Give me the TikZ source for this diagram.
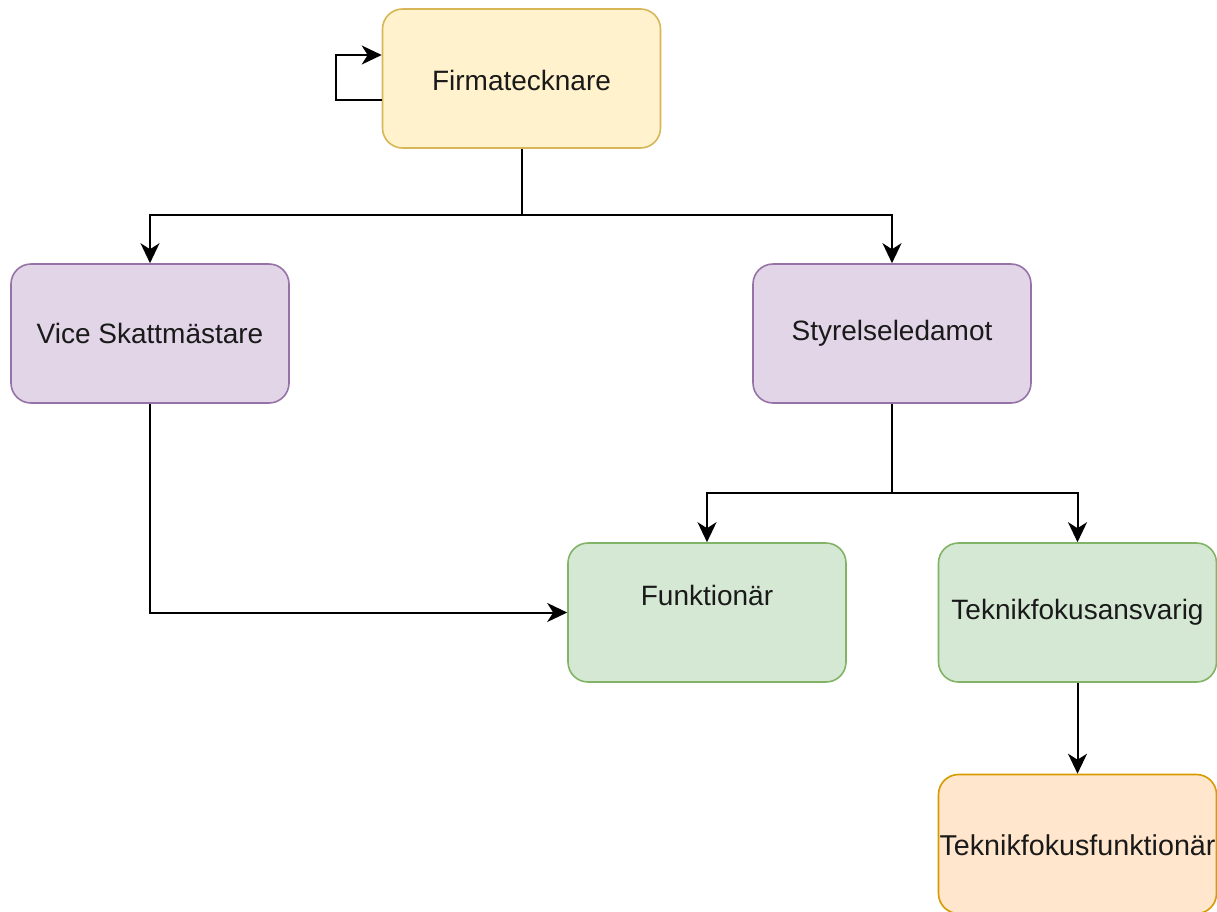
\documentclass[tikz,border=0pt]{standalone}
\usepackage{fontspec}
\setmainfont{Liberation Sans}
\usetikzlibrary{arrows.meta}
\definecolor{yfill}{HTML}{FFF2CC}\definecolor{ydraw}{HTML}{D6B656}
\definecolor{pfill}{HTML}{E1D5E7}\definecolor{pdraw}{HTML}{9673A6}
\definecolor{gfill}{HTML}{D5E8D4}\definecolor{gdraw}{HTML}{82B366}
\definecolor{ofill}{HTML}{FFE6CC}\definecolor{odraw}{HTML}{D79B00}
\definecolor{txt}{HTML}{1A1A1A}
\begin{document}
\begin{tikzpicture}[x=1pt,y=-1pt,
  box/.style={rounded corners=20pt,line width=1.6pt,minimum width=278pt,minimum height=139pt,inner sep=0pt,font=\fontsize{28}{32}\selectfont,text=txt},
  lbl/.style={inner sep=0pt,font=\fontsize{28}{32}\selectfont,text=txt},
  conn/.style={line width=2pt,-{Stealth[length=20pt,width=19pt,inset=6pt]}}]
\useasboundingbox (0,0) rectangle (1217,911);
\node[box,fill=yfill,draw=ydraw] (firma) at (521.5,78.5) {};
\node[lbl] (firmatext) at (521.5,80) {Firmatecknare};
\node[box,fill=pfill,draw=pdraw] (vice) at (150,333.5) {Vice Skattmästare};
\node[box,fill=pfill,draw=pdraw] (styr) at (892,333.5) {Styrelseledamot};
\node[box,fill=gfill,draw=gdraw] (funk) at (707,612.5) {};
\node[lbl] (funktext) at (707,595) {Funktionär};
\node[box,fill=gfill,draw=gdraw] (tekans) at (1077.5,612.5) {Teknikfokusansvarig};
\node[box,fill=ofill,draw=odraw] (tekfun) at (1077.5,844) {};
\node[lbl] (tekfuntext) at (1077.5,845) {\resizebox{276pt}{!}{Teknikfokusfunktionär}};
\coordinate (lp1) at (336,100);
\coordinate (lp2) at (336,55);
\draw[conn] (firma.west |- lp1) -- (lp1) -- (lp2) -- (firma.west |- lp2);
\coordinate (j1) at (521.5,215);
\draw[conn] (firma.south) -- (j1) -| (vice.north);
\draw[conn] (j1) -| (styr.north);
\coordinate (j2) at (892,493);
\draw[conn] (styr.south) -- (j2) -| (funk.north);
\draw[conn] (j2) -| (tekans.north);
\draw[conn] (vice.south) |- (funk.west);
\draw[conn] (tekans.south) -- (tekfun.north);
\end{tikzpicture}
\end{document}
